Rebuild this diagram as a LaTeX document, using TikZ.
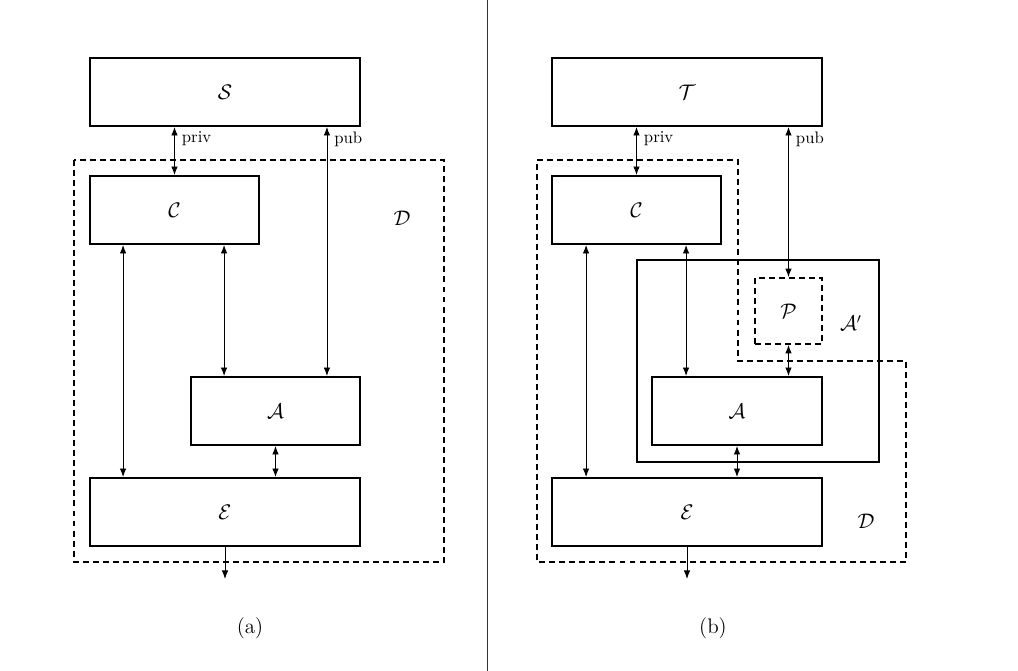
\documentclass[tikz,border=0pt]{standalone}
\usepackage{amsmath,amssymb}
\usetikzlibrary{arrows.meta,calc}

\begin{document}
\begin{tikzpicture}[
  x=0.02cm, y=-0.02cm,
  font=\fontsize{12}{14}\selectfont,
  >={Latex[length=1.7mm,width=1.3mm]},
  party/.style={
    rectangle, draw=black, line width=1.1pt, minimum height=1.36cm, inner sep=0pt
  },
  widebox/.style={party, minimum width=5.4cm},
  halfbox/.style={party, minimum width=3.38cm},
  region/.style={draw=black, line width=1pt, dash pattern=on 3.4pt off 2.3pt},
  chan/.style={<->, line width=0.5pt, draw=black},
  outchan/.style={->, line width=0.5pt, draw=black},
  tag/.style={font=\fontsize{9.5}{11}\selectfont, anchor=west, inner sep=1pt, xshift=3pt},
]
\useasboundingbox (0,0) rectangle (1018,671);

% separator between the two panels
\draw[line width=0.5pt, draw=black!80] (487,0) -- (487,671);

% ---------- (a) ----------
\draw[region] (74,160) rectangle (444,562);
\node[widebox] (S)  at (225,92)    {$\mathcal{S}$};
\node[halfbox] (Cl) at (174.5,210) {$\mathcal{C}$};
\node[halfbox] (Al) at (275.5,411) {$\mathcal{A}$};
\node[widebox] (El) at (225,512)   {$\mathcal{E}$};
\node (Dl) at (402,218) {$\mathcal{D}$};
\node (capa) at (250,628) {(a)};

\coordinate (publ) at ($(Al.north east)+(-34,0)$);
\draw[chan] (Cl.north |- S.south) -- node[tag, pos=0.24] (privl) {priv} (Cl.north);
\draw[chan] (S.south -| publ) -- node[tag, pos=0.05] (pubtl) {pub} (publ);
\draw[chan] ($(Cl.south west)+(34,0)$) coordinate (cel) -- (cel |- El.north);
\draw[chan] ($(Al.north west)+(34,0)$) coordinate (cal) -- (cal |- Cl.south);
\draw[chan] (Al.south) -- (Al.south |- El.north);
\draw[outchan] (El.south) -- ++(0,32);

% ---------- (b) ----------
\draw[region] (537,160) -- (738,160) -- (738,361) -- (906,361) -- (906,562) -- (537,562) -- cycle;
\node[party, minimum width=4.84cm, minimum height=4.04cm] (Apr) at (758,361) {};
\node[widebox] (T)  at (687,92)    {$\mathcal{T}$};
\node[halfbox] (Cr) at (636.5,210) {$\mathcal{C}$};
\node[party, region, minimum width=1.34cm, minimum height=1.32cm] (Pr) at (788.5,311) {$\mathcal{P}$};
\node[halfbox, minimum width=3.4cm] (Ar) at (737,411) {$\mathcal{A}$};
\node[widebox] (Er) at (687,512)   {$\mathcal{E}$};
\node (Aprl) at (851,323) {$\mathcal{A}'$};
\node (Dr) at (866,521) {$\mathcal{D}$};
\node (capb) at (713,628) {(b)};

\draw[chan] (Cr.north |- T.south) -- node[tag, pos=0.24] (privr) {priv} (Cr.north);
\draw[chan] (Pr.north |- T.south) -- node[tag, pos=0.08] (pubtr) {pub} (Pr.north);
\draw[chan] ($(Cr.south west)+(35,0)$) coordinate (cer) -- (cer |- Er.north);
\draw[chan] ($(Ar.north west)+(35,0)$) coordinate (car) -- (car |- Cr.south);
\draw[chan] (Pr.south) -- (Pr.south |- Ar.north);
\draw[chan] (Ar.south) -- (Ar.south |- Er.north);
\draw[outchan] (Er.south) -- ++(0,32);

\end{tikzpicture}
\end{document}
